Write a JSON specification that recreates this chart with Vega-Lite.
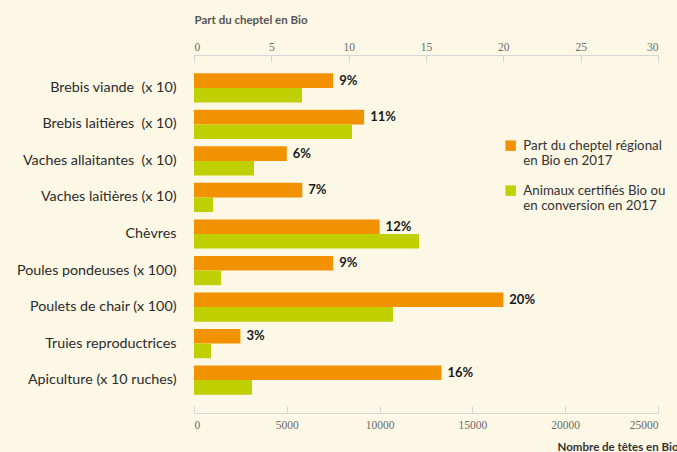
{
  "$schema": "https://vega.github.io/schema/vega-lite/v6.json",
  "width": 464,
  "height": 358,
  "autosize": {"type": "none"},
  "padding": {"left": 194, "top": 55, "right": 19, "bottom": 39},
  "background": "#fdf7e5",
  "config": {
    "view": {"stroke": null},
    "axis": {"grid": false, "domainColor": "#d6d6d6", "tickColor": "#d6d6d6", "labelColor": "#6b6b6b", "labelFont": "Liberation Sans Narrow", "labelFontSize": 11.5, "titleFont": "Lato"},
    "legend": {"labelFont": "Lato", "labelFontSize": 13.3, "labelColor": "#333"}
  },
  "data": {
    "values": [
      {"cat": "Brebis viande\u00a0 (x 10)", "serie": "Part du cheptel régional|en Bio en 2017|", "value": 9, "label": "9%"},
      {"cat": "Brebis viande\u00a0 (x 10)", "serie": "Animaux certifiés Bio ou|en conversion en 2017|", "value": 5819, "label": ""},
      {"cat": "Brebis laitières\u00a0 (x 10)", "serie": "Part du cheptel régional|en Bio en 2017|", "value": 11, "label": "11%"},
      {"cat": "Brebis laitières\u00a0 (x 10)", "serie": "Animaux certifiés Bio ou|en conversion en 2017|", "value": 8513, "label": ""},
      {"cat": "Vaches allaitantes\u00a0 (x 10)", "serie": "Part du cheptel régional|en Bio en 2017|", "value": 6, "label": "6%"},
      {"cat": "Vaches allaitantes\u00a0 (x 10)", "serie": "Animaux certifiés Bio ou|en conversion en 2017|", "value": 3233, "label": ""},
      {"cat": "Vaches laitières (x 10)", "serie": "Part du cheptel régional|en Bio en 2017|", "value": 7, "label": "7%"},
      {"cat": "Vaches laitières (x 10)", "serie": "Animaux certifiés Bio ou|en conversion en 2017|", "value": 1024, "label": ""},
      {"cat": "Chèvres", "serie": "Part du cheptel régional|en Bio en 2017|", "value": 12, "label": "12%"},
      {"cat": "Chèvres", "serie": "Animaux certifiés Bio ou|en conversion en 2017|", "value": 12123, "label": ""},
      {"cat": "Poules pondeuses (x 100)", "serie": "Part du cheptel régional|en Bio en 2017|", "value": 9, "label": "9%"},
      {"cat": "Poules pondeuses (x 100)", "serie": "Animaux certifiés Bio ou|en conversion en 2017|", "value": 1455, "label": ""},
      {"cat": "Poulets de chair (x 100)", "serie": "Part du cheptel régional|en Bio en 2017|", "value": 20, "label": "20%"},
      {"cat": "Poulets de chair (x 100)", "serie": "Animaux certifiés Bio ou|en conversion en 2017|", "value": 10722, "label": ""},
      {"cat": "Truies reproductrices", "serie": "Part du cheptel régional|en Bio en 2017|", "value": 3, "label": "3%"},
      {"cat": "Truies reproductrices", "serie": "Animaux certifiés Bio ou|en conversion en 2017|", "value": 916, "label": ""},
      {"cat": "Apiculture (x 10 ruches)", "serie": "Part du cheptel régional|en Bio en 2017|", "value": 16, "label": "16%"},
      {"cat": "Apiculture (x 10 ruches)", "serie": "Animaux certifiés Bio ou|en conversion en 2017|", "value": 3125, "label": ""}
    ]
  },
  "encoding": {
    "y": {
      "field": "cat", "type": "nominal",
      "sort": ["Brebis viande\u00a0 (x 10)", "Brebis laitières\u00a0 (x 10)", "Vaches allaitantes\u00a0 (x 10)", "Vaches laitières (x 10)", "Chèvres", "Poules pondeuses (x 100)", "Poulets de chair (x 100)", "Truies reproductrices", "Apiculture (x 10 ruches)"],
      "scale": {"paddingInner": 0.2, "paddingOuter": 0.5},
      "axis": {"title": null, "domain": false, "ticks": false, "labelPadding": 18, "labelFont": "Lato", "labelFontSize": 14.3, "labelColor": "#2b2b2b", "labelLimit": 300}
    },
    "yOffset": {
      "field": "serie", "type": "nominal",
      "scale": {"domain": ["Part du cheptel régional|en Bio en 2017|", "Animaux certifiés Bio ou|en conversion en 2017|"], "paddingInner": 0, "paddingOuter": 0}
    }
  },
  "layer": [
    {
      "transform": [{"filter": "datum.label != ''"}],
      "encoding": {
        "x": {
          "field": "value", "type": "quantitative",
          "scale": {"domain": [0, 30]},
          "axis": {"orient": "top", "values": [0, 5, 10, 15, 20, 25, 30], "tickSize": -7, "labelPadding": 10,
            "title": "Part du cheptel en Bio", "titleAnchor": "start", "titleAlign": "left", "titleX": 0, "titleY": -35, "titleBaseline": "middle", "titleFontSize": 11.5, "titleFontWeight": "bold", "titleColor": "#555"}
        }
      },
      "layer": [
        {
          "mark": {"type": "bar"},
          "encoding": {
            "color": {
              "field": "serie", "type": "nominal",
              "scale": {"domain": ["Part du cheptel régional|en Bio en 2017|", "Animaux certifiés Bio ou|en conversion en 2017|"], "range": ["#f39200", "#c0cf00"]},
              "legend": {"title": null, "orient": "none", "legendX": 310, "legendY": 84, "symbolType": "square", "symbolSize": 110, "symbolStrokeWidth": 0, "symbolOpacity": 1, "labelExpr": "split(datum.label, '|')", "labelLineHeight": 15, "labelOffset": 6, "rowPadding": 0, "labelLimit": 300}
            }
          }
        },
        {
          "mark": {"type": "text", "align": "left", "baseline": "middle", "dx": 6, "fontWeight": "bold", "fontSize": 13, "font": "Lato", "color": "#1a1a1a"},
          "encoding": {"text": {"field": "label"}}
        }
      ]
    },
    {
      "transform": [{"filter": "datum.label == ''"}],
      "mark": {"type": "bar"},
      "encoding": {
        "x": {
          "field": "value", "type": "quantitative",
          "scale": {"domain": [0, 25000]},
          "axis": {"orient": "bottom", "values": [0, 5000, 10000, 15000, 20000, 25000], "format": "d", "tickSize": -7, "labelPadding": 13,
            "title": "Nombre de têtes en Bio", "titleAnchor": "end", "titleAlign": "right", "titleX": 484, "titleY": 28, "titleBaseline": "top", "titleFontSize": 11.5, "titleFontWeight": "bold", "titleColor": "#333"}
        },
        "color": {"field": "serie", "type": "nominal"}
      }
    }
  ],
  "resolve": {"scale": {"x": "independent"}, "axis": {"x": "independent"}}
}
